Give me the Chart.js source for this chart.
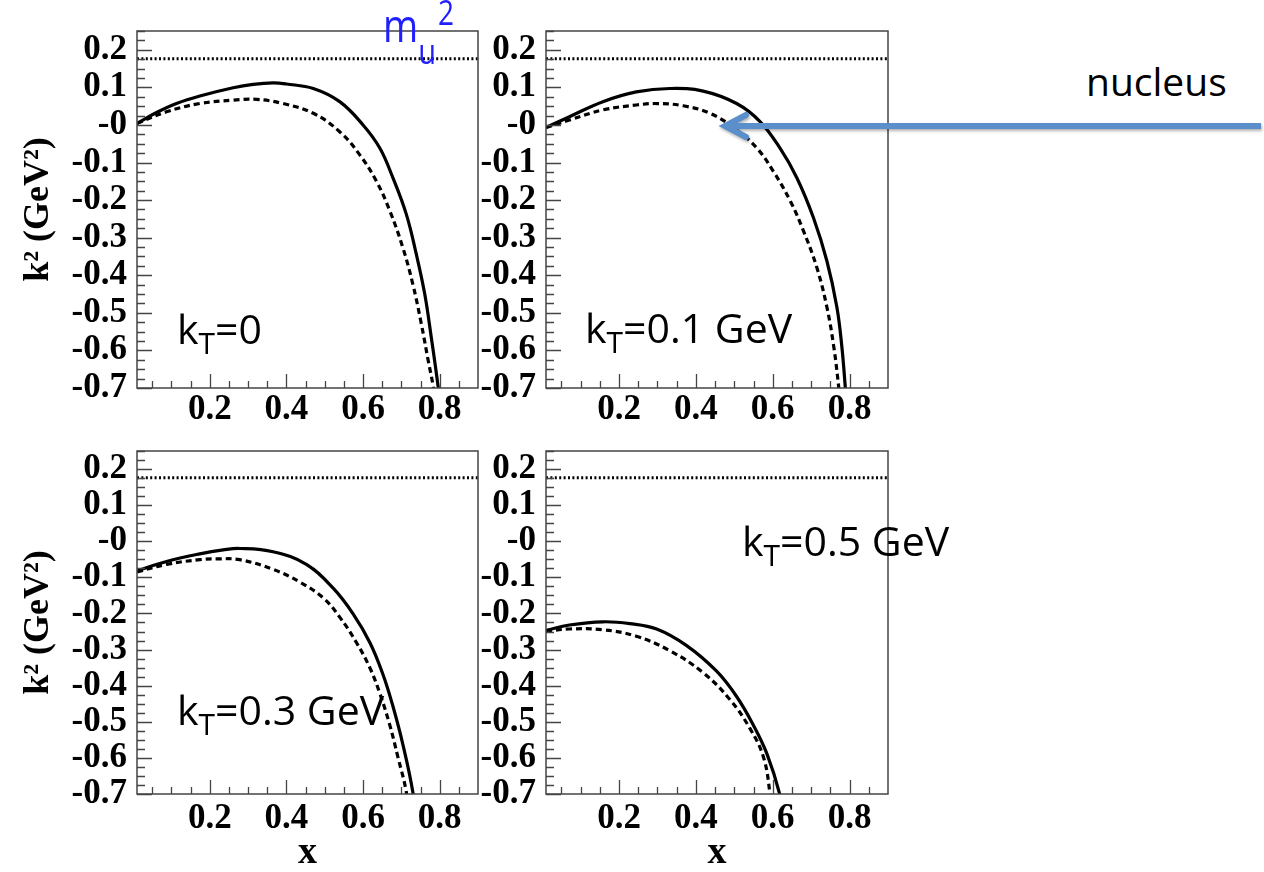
<!DOCTYPE html>
<html>
<head>
<meta charset="utf-8">
<script src="https://cdn.jsdelivr.net/npm/chart.js@4.4.1/dist/chart.umd.min.js"></script>
<style>
  body { margin: 0; background: #fff; }
  #page { position: relative; width: 1264px; height: 872px; overflow: hidden; background: #fff; }
  .panel { position: absolute; }
  .lbl { position: absolute; font-family: "Open Sans", sans-serif; line-height: 1; white-space: nowrap; color: #000; }
  .sub { position: relative; }
  #arrow { position: absolute; left: 0; top: 0; filter: drop-shadow(1px 2px 1.5px rgba(0,0,0,0.3)); }
</style>
</head>
<body>
<div id="page">
  <canvas class="panel" id="p1" width="480" height="432" style="left:0;top:0"></canvas>
  <canvas class="panel" id="p2" width="410" height="432" style="left:480px;top:0"></canvas>
  <canvas class="panel" id="p3" width="480" height="452" style="left:0;top:420px"></canvas>
  <canvas class="panel" id="p4" width="410" height="452" style="left:480px;top:420px"></canvas>

  <div class="lbl" style="left:177px;top:308px;font-size:41px">k<span class="sub" style="font-size:30px;top:10px">T</span>=0</div>
  <div class="lbl" style="left:585px;top:307px;font-size:41px">k<span class="sub" style="font-size:30px;top:10px">T</span>=0.1 GeV</div>
  <div class="lbl" style="left:177px;top:689px;font-size:41px">k<span class="sub" style="font-size:30px;top:10px">T</span>=0.3 GeV</div>
  <div class="lbl" style="left:742px;top:520px;font-size:41px">k<span class="sub" style="font-size:30px;top:10px">T</span>=0.5 GeV</div>

  <div class="lbl" style="left:383px;top:8px;font-size:38px;color:#2020ff;transform:scaleY(1.22);transform-origin:0 34px">m<span class="sub" style="font-size:29px;top:18px">u</span><span class="sub" style="font-size:28px;top:-14px;margin-left:2px">2</span></div>

  <div class="lbl" style="left:1086px;top:61px;font-size:39px">nucleus</div>

  <svg id="arrow" width="1264" height="872">
    <line x1="1261" y1="126" x2="727" y2="126" stroke="#5b8fcb" stroke-width="6"/>
    <polyline points="746,115 725,126 746,137" fill="none" stroke="#5b8fcb" stroke-width="6" stroke-linecap="round" stroke-linejoin="miter"/>
  </svg>
</div>

<script>
// axis ranges and tick labels
const xMin = 0.01, xMax = 0.9;
const yMin = -0.7, yMax = 0.25;
const xTicks = [0.2, 0.4, 0.6, 0.8];
const xTickLabels = ["0.2", "0.4", "0.6", "0.8"];
const yTicks = [0.2, 0.1, 0, -0.1, -0.2, -0.3, -0.4, -0.5, -0.6, -0.7];
const yTickLabels = ["0.2", "0.1", "-0", "-0.1", "-0.2", "-0.3", "-0.4", "-0.5", "-0.6", "-0.7"];

// m_u^2 reference line
const muSquared = 0.176;

// [x, k^2]; solid and dashed for each kT
const kt0Solid = [[0.01,0.004],[0.061,0.033],[0.113,0.057],[0.174,0.077],[0.261,0.099],[0.313,0.108],[0.365,0.112],[0.40,0.109],[0.470,0.097],[0.539,0.062],[0.600,0.000],[0.644,-0.062],[0.678,-0.141],[0.713,-0.238],[0.739,-0.344],[0.761,-0.450],[0.778,-0.565],[0.796,-0.697],[0.805,-0.78]];
const kt0Dash = [[0.01,0.004],[0.087,0.035],[0.174,0.057],[0.261,0.066],[0.322,0.068],[0.391,0.057],[0.470,0.031],[0.539,-0.018],[0.591,-0.079],[0.635,-0.150],[0.670,-0.229],[0.704,-0.327],[0.730,-0.424],[0.752,-0.529],[0.770,-0.627],[0.783,-0.697],[0.79,-0.77]];

const kt1Solid = [[0.01,-0.007],[0.071,0.022],[0.158,0.062],[0.245,0.088],[0.332,0.097],[0.419,0.090],[0.506,0.057],[0.567,0.009],[0.619,-0.062],[0.663,-0.141],[0.706,-0.247],[0.741,-0.362],[0.767,-0.485],[0.780,-0.591],[0.789,-0.70],[0.795,-0.78]];
const kt1Dash = [[0.01,-0.007],[0.071,0.013],[0.158,0.040],[0.245,0.053],[0.298,0.057],[0.367,0.051],[0.437,0.031],[0.506,-0.013],[0.559,-0.062],[0.602,-0.124],[0.646,-0.203],[0.680,-0.282],[0.715,-0.380],[0.741,-0.485],[0.759,-0.591],[0.772,-0.70],[0.78,-0.78]];

const kt3Solid = [[0.01,-0.082],[0.087,-0.056],[0.174,-0.035],[0.235,-0.024],[0.278,-0.020],[0.365,-0.029],[0.452,-0.064],[0.522,-0.130],[0.574,-0.201],[0.618,-0.281],[0.652,-0.369],[0.678,-0.457],[0.704,-0.563],[0.730,-0.695],[0.738,-0.78]];
const kt3Dash = [[0.01,-0.085],[0.087,-0.064],[0.174,-0.051],[0.218,-0.049],[0.278,-0.051],[0.365,-0.078],[0.435,-0.113],[0.496,-0.157],[0.539,-0.210],[0.583,-0.281],[0.618,-0.351],[0.644,-0.422],[0.670,-0.510],[0.691,-0.598],[0.713,-0.695],[0.72,-0.77]];

const kt5Solid = [[0.01,-0.247],[0.071,-0.232],[0.158,-0.223],[0.228,-0.228],[0.298,-0.243],[0.376,-0.289],[0.454,-0.360],[0.506,-0.430],[0.550,-0.510],[0.585,-0.589],[0.618,-0.70],[0.63,-0.78]];
const kt5Dash = [[0.01,-0.250],[0.071,-0.243],[0.158,-0.245],[0.245,-0.263],[0.332,-0.303],[0.419,-0.364],[0.489,-0.439],[0.541,-0.519],[0.576,-0.598],[0.593,-0.70],[0.60,-0.78]];

const toPts = arr => arr.map(p => ({ x: p[0], y: p[1] }));

// ROOT style frame with ticks pointing inward
const frameTicks = {
  id: "frameTicks",
  afterDatasetsDraw(chart) {
    const { ctx, chartArea: a, scales: { x, y } } = chart;
    ctx.save();
    ctx.strokeStyle = "#444";
    ctx.lineWidth = 1.3;
    ctx.beginPath();
    for (let i = 0; i <= 38; i++) {
      const v = yMin + i * 0.025;
      const major = i % 4 === 0;
      const py = Math.round(y.getPixelForValue(v)) + 0.5;
      ctx.moveTo(a.left, py);
      ctx.lineTo(a.left + (major ? 15 : 8), py);
    }
    for (let i = 1; i <= 17; i++) {
      const v = i * 0.05;
      const major = i % 4 === 0;
      const px = Math.round(x.getPixelForValue(v)) + 0.5;
      ctx.moveTo(px, a.bottom);
      ctx.lineTo(px, a.bottom - (major ? 14 : 7));
    }
    ctx.stroke();
    ctx.lineWidth = 1.5;
    ctx.strokeRect(a.left, a.top, a.right - a.left, a.bottom - a.top);
    ctx.restore();
  }
};

const tickFont = { family: "Liberation Serif", weight: "bold", size: 35 };

function makePanel(id, solid, dash, opt) {
  new Chart(document.getElementById(id), {
    type: "line",
    data: {
      datasets: [
        { data: toPts(solid), borderColor: "#000", borderWidth: 3.2, pointRadius: 0, tension: 0.4, clip: 0 },
        { data: toPts(dash), borderColor: "#000", borderWidth: 3.2, borderDash: [6, 4], pointRadius: 0, tension: 0.4, clip: 0 },
        { data: [{ x: xMin, y: muSquared }, { x: xMax, y: muSquared }], borderColor: "#000", borderWidth: 3, borderDash: [2, 2.4], pointRadius: 0, clip: 0 }
      ]
    },
    options: {
      responsive: false,
      animation: false,
      layout: { padding: { top: opt.top, right: opt.right, left: 0, bottom: 0 } },
      plugins: { legend: { display: false }, tooltip: { enabled: false } },
      scales: {
        x: {
          type: "linear", min: xMin, max: xMax,
          afterBuildTicks: s => { s.ticks = xTicks.map(v => ({ value: v })); },
          afterFit: s => { s.height = opt.xh; },
          grid: { display: false, drawTicks: false },
          border: { display: false },
          ticks: { autoSkip: false, maxRotation: 0, padding: opt.xpad, color: "#000", font: tickFont, callback: (v, i) => xTickLabels[i] },
          title: { display: opt.xTitle, text: "x", color: "#000", font: { family: "Liberation Serif", weight: "bold", size: 38, lineHeight: 1 }, padding: { top: 0, bottom: 0 } }
        },
        y: {
          type: "linear", min: yMin, max: yMax,
          afterBuildTicks: s => { s.ticks = yTicks.map(v => ({ value: v })); },
          afterFit: s => { s.width = opt.yw; },
          grid: { display: false, drawTicks: false },
          border: { display: false },
          ticks: { autoSkip: false, padding: 10, color: "#000", font: tickFont, callback: (v, i) => yTickLabels[i] },
          title: { display: opt.yTitle, text: "k² (GeV²)", color: "#000", font: { family: "Liberation Serif", weight: "bold", size: 36 }, padding: { top: 17, bottom: 0 } }
        }
      }
    },
    plugins: [frameTicks]
  });
}

makePanel("p1", kt0Solid, kt0Dash, { top: 29, right: 2, yw: 137, xh: 44, xpad: 1, xTitle: false, yTitle: true });
makePanel("p2", kt1Solid, kt1Dash, { top: 29, right: 2, yw: 66, xh: 44, xpad: 1, xTitle: false, yTitle: false });
makePanel("p3", kt3Solid, kt3Dash, { top: 16, right: 2, yw: 137, xh: 78, xpad: 4, xTitle: true, yTitle: true });
makePanel("p4", kt5Solid, kt5Dash, { top: 16, right: 2, yw: 66, xh: 78, xpad: 4, xTitle: true, yTitle: false });
</script>
</body>
</html>
